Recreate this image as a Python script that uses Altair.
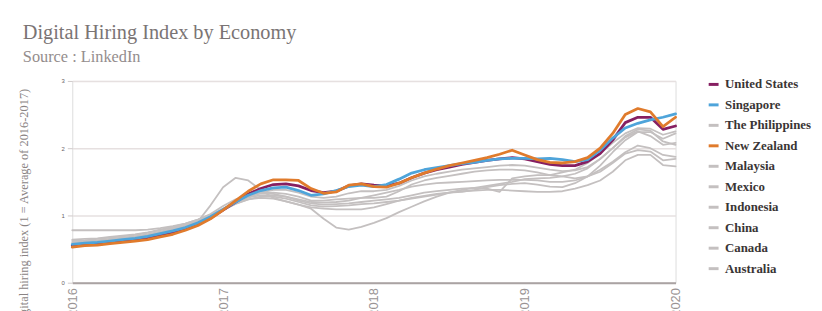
import altair as alt
import pandas as pd

# Monthly observations, Jan 2016 .. Jan 2020
MONTHS = [f"{2016 + i // 12}-{i % 12 + 1:02d}" for i in range(49)]

ECONOMIES = ["United States", "Singapore", "The Philippines", "New Zealand", "Malaysia",
             "Mexico", "Indonesia", "China", "Canada", "Australia"]
COLORS = ["#861f61", "#4ea4da", "#c4c0c0", "#e07b2c", "#c4c0c0",
          "#c4c0c0", "#c4c0c0", "#c4c0c0", "#c4c0c0", "#c4c0c0"]
HIGHLIGHT = ["United States", "Singapore", "New Zealand"]

united_states = [0.55, 0.57, 0.58, 0.60, 0.62, 0.64, 0.67, 0.71, 0.75, 0.80, 0.87, 0.96,
                 1.08, 1.20, 1.32, 1.40, 1.46, 1.47, 1.44, 1.37, 1.34, 1.36, 1.44, 1.47,
                 1.45, 1.44, 1.48, 1.56, 1.63, 1.68, 1.72, 1.76, 1.79, 1.82, 1.84, 1.86,
                 1.84, 1.80, 1.76, 1.74, 1.74, 1.80, 1.92, 2.12, 2.38, 2.46, 2.46, 2.28,
                 2.33]
singapore = [0.57, 0.59, 0.60, 0.62, 0.64, 0.66, 0.69, 0.73, 0.77, 0.82, 0.89, 0.98,
             1.09, 1.20, 1.30, 1.37, 1.41, 1.42, 1.37, 1.30, 1.32, 1.37, 1.43, 1.45,
             1.43, 1.46, 1.54, 1.63, 1.68, 1.71, 1.74, 1.77, 1.79, 1.82, 1.84, 1.85,
             1.85, 1.84, 1.85, 1.83, 1.80, 1.83, 1.97, 2.15, 2.30, 2.37, 2.42, 2.46,
             2.51]
philippines = [0.60, 0.61, 0.62, 0.64, 0.66, 0.68, 0.71, 0.75, 0.79, 0.84, 0.91, 1.15,
               1.42, 1.56, 1.52, 1.38, 1.26, 1.21, 1.16, 1.10, 0.95, 0.82, 0.79, 0.83,
               0.89, 0.96, 1.05, 1.13, 1.21, 1.28, 1.34, 1.38, 1.41, 1.44, 1.47, 1.50,
               1.54, 1.55, 1.56, 1.58, 1.62, 1.70, 1.84, 2.00, 2.16, 2.25, 2.18, 2.05,
               2.08]
new_zealand = [0.53, 0.55, 0.56, 0.58, 0.60, 0.62, 0.64, 0.68, 0.72, 0.78, 0.85, 0.95,
               1.08, 1.22, 1.36, 1.47, 1.53, 1.53, 1.52, 1.40, 1.33, 1.35, 1.45, 1.47,
               1.43, 1.42, 1.48, 1.56, 1.63, 1.69, 1.74, 1.78, 1.82, 1.86, 1.91, 1.97,
               1.90, 1.83, 1.79, 1.78, 1.80, 1.86, 2.00, 2.22, 2.50, 2.59, 2.54, 2.32,
               2.46]
malaysia = [0.78, 0.78, 0.78, 0.78, 0.78, 0.78, 0.79, 0.81, 0.84, 0.88, 0.94, 1.02,
            1.14, 1.24, 1.30, 1.33, 1.34, 1.32, 1.28, 1.22, 1.22, 1.24, 1.25, 1.26,
            1.26, 1.28, 1.36, 1.46, 1.52, 1.56, 1.59, 1.62, 1.65, 1.67, 1.68, 1.68,
            1.67, 1.64, 1.60, 1.64, 1.68, 1.78, 1.92, 2.08, 2.22, 2.30, 2.29, 2.20,
            2.25]
mexico = [0.58, 0.60, 0.62, 0.64, 0.66, 0.68, 0.71, 0.75, 0.80, 0.85, 0.91, 0.99,
          1.10, 1.20, 1.27, 1.30, 1.30, 1.28, 1.24, 1.20, 1.19, 1.20, 1.22, 1.26,
          1.30, 1.34, 1.38, 1.43, 1.46, 1.48, 1.49, 1.50, 1.51, 1.52, 1.53, 1.53,
          1.53, 1.52, 1.50, 1.50, 1.52, 1.58, 1.68, 1.80, 1.94, 2.04, 2.00, 1.90,
          1.87]
indonesia = [0.64, 0.65, 0.66, 0.68, 0.70, 0.72, 0.75, 0.79, 0.83, 0.88, 0.94, 1.01,
             1.10, 1.20, 1.28, 1.33, 1.32, 1.28, 1.22, 1.18, 1.16, 1.17, 1.18, 1.20,
             1.22, 1.24, 1.26, 1.30, 1.34, 1.36, 1.38, 1.40, 1.41, 1.40, 1.35, 1.55,
             1.58, 1.60, 1.60, 1.58, 1.55, 1.58, 1.65, 1.78, 1.92, 1.97, 1.95, 1.82,
             1.84]
china = [0.62, 0.63, 0.65, 0.67, 0.69, 0.71, 0.74, 0.78, 0.82, 0.87, 0.93, 1.00,
         1.08, 1.17, 1.24, 1.28, 1.28, 1.25, 1.20, 1.15, 1.13, 1.14, 1.15, 1.17,
         1.18, 1.20, 1.22, 1.25, 1.28, 1.31, 1.34, 1.36, 1.37, 1.38, 1.38, 1.37,
         1.36, 1.35, 1.35, 1.36, 1.40, 1.45, 1.52, 1.65, 1.82, 1.90, 1.90, 1.75,
         1.73]
canada = [0.59, 0.61, 0.63, 0.65, 0.67, 0.69, 0.72, 0.76, 0.80, 0.85, 0.91, 0.99,
          1.09, 1.18, 1.24, 1.26, 1.25, 1.21, 1.16, 1.12, 1.10, 1.09, 1.09, 1.09,
          1.12, 1.17, 1.22, 1.26, 1.29, 1.32, 1.34, 1.35, 1.38, 1.42, 1.45, 1.47,
          1.48, 1.46, 1.43, 1.42, 1.48, 1.58, 1.74, 1.94, 2.12, 2.24, 2.24, 2.14,
          2.22]
australia = [0.57, 0.59, 0.61, 0.63, 0.65, 0.67, 0.70, 0.74, 0.78, 0.83, 0.90, 0.98,
             1.08, 1.18, 1.27, 1.34, 1.38, 1.38, 1.34, 1.28, 1.26, 1.28, 1.33, 1.36,
             1.36, 1.38, 1.44, 1.52, 1.58, 1.62, 1.65, 1.68, 1.70, 1.72, 1.74, 1.75,
             1.74, 1.71, 1.68, 1.66, 1.67, 1.72, 1.84, 2.00, 2.18, 2.28, 2.26, 2.10,
             2.05]

SERIES = {
    "United States": united_states, "Singapore": singapore,
    "The Philippines": philippines, "New Zealand": new_zealand,
    "Malaysia": malaysia, "Mexico": mexico, "Indonesia": indonesia,
    "China": china, "Canada": canada, "Australia": australia,
}

rows = []
for name, vals in SERIES.items():
    assert len(vals) == len(MONTHS), name
    for mon, v in zip(MONTHS, vals):
        y, m = mon.split("-")
        rows.append({"economy": name, "month": mon,
                     "t": int(y) + (int(m) - 1) / 12, "index": v})
df = pd.DataFrame(rows)

SERIF = "Liberation Serif"

color = alt.Color(
    "economy:N",
    scale=alt.Scale(domain=ECONOMIES, range=COLORS),
    legend=alt.Legend(orient="none", legendX=642, legendY=-3, title=None),
)

x = alt.X(
    "t:Q",
    scale=alt.Scale(domain=[2016, 2020], nice=False, zero=False),
    axis=alt.Axis(
        values=[2016, 2017, 2018, 2019, 2020], format="d", labelAngle=-90,
        labelFont="Liberation Sans", labelFontSize=13, labelColor="#9a9494",
        labelPadding=5, ticks=False, grid=False,
        domainColor="#aaa3a3", domainWidth=2, title=None,
    ),
)
y = alt.Y(
    "index:Q",
    scale=alt.Scale(domain=[0, 3], nice=False),
    axis=alt.Axis(
        values=[0, 1, 2, 3], format="d", labelFontSize=6, labelColor="#6a6464",
        labelFont="Liberation Sans", labelPadding=3,
        tickColor="#cfc9c9", tickSize=5, gridColor="#e6e0e0", gridWidth=1.5,
        domain=False,
        title="Digital hiring index (1 = Average of 2016-2017)",
        titleFont=SERIF, titleFontSize=12.5, titleFontWeight="normal",
        titleColor="#8a8484", titleX=-42, titleY=128, titleAlign="center",
    ),
)

base = alt.Chart(df)
gray = base.transform_filter(
    alt.FieldOneOfPredicate(field="economy", oneOf=[e for e in ECONOMIES if e not in HIGHLIGHT])
).mark_line(strokeWidth=1.8, strokeJoin="round", strokeCap="round").encode(
    x=x, y=y, color=color, detail="economy:N"
)
hi = base.transform_filter(
    alt.FieldOneOfPredicate(field="economy", oneOf=HIGHLIGHT)
).mark_line(strokeWidth=2.8, strokeJoin="round", strokeCap="round").encode(
    x=x, y=y, color=color, detail="economy:N",
    order=alt.Order("t:Q"),
)

chart = alt.layer(gray, hi).properties(
    width=610, height=204,
    autosize=alt.AutoSizeParams(type="none"),
    padding={"left": 65, "top": 72, "right": 140, "bottom": 40},
    title=alt.TitleParams(
        text="Digital Hiring Index by Economy", subtitle="Source : LinkedIn",
        anchor="start", frame="group", dx=-50, offset=13,
        font=SERIF, fontSize=20.5, fontWeight="normal", color="#7a7474",
        subtitleFont=SERIF, subtitleFontSize=16.5, subtitleColor="#948d8d",
        subtitlePadding=5,
    ),
).configure_view(stroke=None).configure(background="white").configure_legend(
    labelFont=SERIF, labelFontWeight="bold", labelFontSize=13, labelColor="#3a3535",
    symbolType="stroke", symbolStrokeWidth=3, symbolSize=100, rowPadding=6.7,
    labelLimit=300, labelOffset=5, padding=0,
)

chart.save("out.html", embed_options={"renderer": "svg", "actions": False})
